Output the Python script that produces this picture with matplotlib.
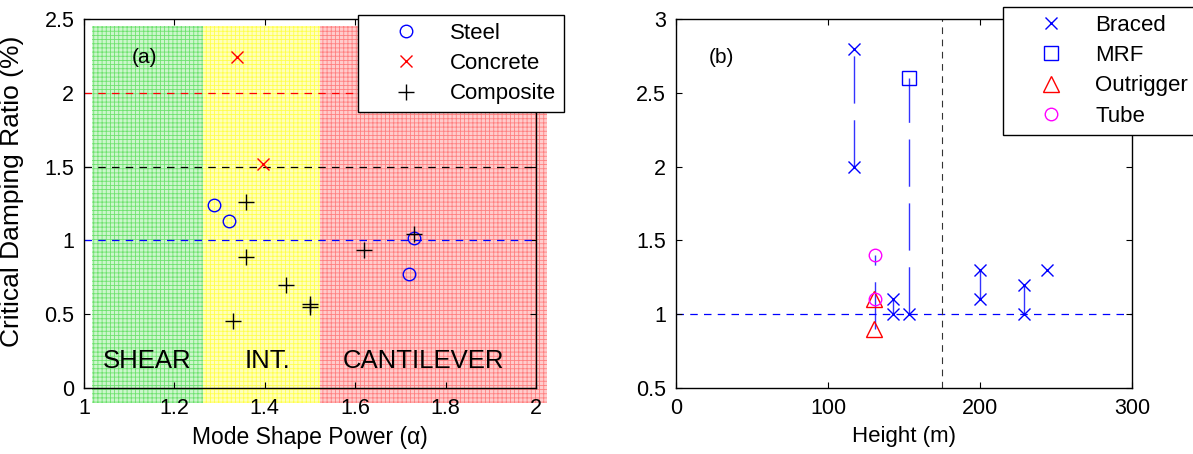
import matplotlib
matplotlib.use("Agg")
import matplotlib.pyplot as plt
from matplotlib.patches import Rectangle
from matplotlib.ticker import FormatStrFormatter

plt.rcParams['font.family'] = ['Liberation Sans', 'DejaVu Sans']
plt.rcParams['hatch.linewidth'] = 0.6

# ---- panel (a) data: mode shape power vs damping ratio ----
steel_alpha = [1.288, 1.32, 1.729, 1.719]
steel_zeta = [1.24, 1.13, 1.015, 0.77]
concrete_alpha = [1.338, 1.397]
concrete_zeta = [2.24, 1.515]
composite_alpha = [1.359, 1.359, 1.448, 1.50, 1.50, 1.33, 1.619, 1.729]
composite_zeta = [1.257, 0.885, 0.696, 0.568, 0.55, 0.455, 0.937, 1.045]

# region bounds (alpha) and colours
region_edges = [1.018, 1.263, 1.522, 2.024]
region_names = ['SHEAR', 'INT.', 'CANTILEVER']
region_face = ['#ccf6cc', '#ffffbc', '#ffcccc']
region_hatch = ['#6ee26e', '#ffff4c', '#ff8080']
ref_levels = [2.0, 1.5, 1.0]
ref_colors = ['red', 'black', 'blue']

# ---- panel (b) data: height vs damping ratio ----
braced_h = [117, 117, 153, 143, 143, 200, 200, 229, 229, 244]
braced_zeta = [2.8, 2.0, 1.0, 1.1, 1.0, 1.3, 1.1, 1.2, 1.0, 1.3]
mrf_h = [153]
mrf_zeta = [2.6]
outrigger_h = [130.5, 130.5]
outrigger_zeta = [1.1, 0.9]
tube_h = [131, 131]
tube_zeta = [1.4, 1.1]
# vertical range bars (height, low, high)
bar_h = [117, 153, 131, 143, 200, 229]
bar_lo = [2.0, 1.0, 0.9, 1.0, 1.1, 1.0]
bar_hi = [2.8, 2.6, 1.4, 1.1, 1.3, 1.2]
split_height = 175

fig = plt.figure(figsize=(11.93, 4.54), dpi=100)
ax1 = fig.add_axes([0.0704, 0.1454, 0.3789, 0.8126])
ax2 = fig.add_axes([0.5666, 0.1454, 0.3823, 0.8126])

ms = 9
for ax in (ax1, ax2):
    ax.tick_params(direction='in', top=True, right=True, labelsize=15.5,
                   length=4, width=0.8, pad=7)
    for s in ax.spines.values():
        s.set_linewidth(1.0)
        s.set_zorder(5)
    ax.yaxis.set_major_formatter(FormatStrFormatter('%g'))
    ax.xaxis.set_major_formatter(FormatStrFormatter('%g'))

legend_kw = dict(loc='upper left', bbox_transform=fig.transFigure, fontsize=16,
                 frameon=True, fancybox=False, edgecolor='black', framealpha=1,
                 handlelength=3.6, handletextpad=0.2, labelspacing=0.42,
                 borderpad=0.35, borderaxespad=0)

# ---- panel (a) ----
for i in range(3):
    x0, x1 = region_edges[i], region_edges[i + 1]
    ax1.add_patch(Rectangle((x0, -0.1), x1 - x0, 2.55, facecolor=region_face[i],
                            edgecolor=region_hatch[i], hatch='++++', linewidth=0,
                            clip_on=False, zorder=0.5))
for lev, c in zip(ref_levels, ref_colors):
    ax1.plot([1, 2], [lev, lev], '--', color=c, linewidth=0.9, dashes=(6, 5), zorder=2)

ax1.plot(steel_alpha, steel_zeta, 'o', mfc='none', mec='blue', ms=ms, mew=1.0,
         label='Steel', zorder=3)
ax1.plot(concrete_alpha, concrete_zeta, 'x', color='red', ms=ms, mew=1.0,
         label='Concrete', zorder=3)
ax1.plot(composite_alpha, composite_zeta, '+', color='black', ms=ms + 2, mew=1.0,
         label='Composite', zorder=3)

region_label_x = [1.14, 1.406, 1.75]
for xc, name in zip(region_label_x, region_names):
    ax1.text(xc, 0.18, name, ha='center', va='center', fontsize=18.5, zorder=4)
ax1.text(1.133, 2.24, '(a)', ha='center', va='center', fontsize=15, zorder=4)

ax1.set_xlim(1, 2)
ax1.set_ylim(0, 2.5)
ax1.set_xticks([1, 1.2, 1.4, 1.6, 1.8, 2])
ax1.set_yticks([0, 0.5, 1, 1.5, 2, 2.5])
ax1.set_xlabel('Mode Shape Power (\u03b1)', fontsize=16.5, labelpad=5)
ax1.set_ylabel('Critical Damping Ratio (%)', fontsize=19)
ax1.yaxis.set_label_coords(-0.133, 0.534)
leg = ax1.legend(bbox_to_anchor=(0.300, 0.967), **legend_kw)
leg.get_frame().set_linewidth(1.0)

# ---- panel (b) ----
ax2.axhline(1.0, color='blue', linestyle='--', dashes=(6, 5), linewidth=0.9, zorder=1)
ax2.axvline(split_height, color='#333333', linestyle='--', dashes=(6, 5),
            linewidth=0.8, zorder=1)
for h, lo, hi in zip(bar_h, bar_lo, bar_hi):
    ax2.plot([h, h], [lo, hi], color='blue', linewidth=1.0, dashes=(34, 12),
             alpha=0.8, zorder=2)

ax2.plot(braced_h, braced_zeta, 'x', color='blue', ms=ms, mew=1.0,
         label='Braced', zorder=3)
ax2.plot(mrf_h, mrf_zeta, 's', mfc='none', mec='blue', ms=ms + 1, mew=1.0,
         label='MRF', zorder=3)
ax2.plot(outrigger_h, outrigger_zeta, '^', mfc='none', mec='red', ms=ms + 2, mew=1.0,
         label='Outrigger', zorder=3)
ax2.plot(tube_h, tube_zeta, 'o', mfc='none', mec='magenta', ms=ms, mew=1.0,
         label='Tube', zorder=3)
ax2.text(30, 2.74, '(b)', ha='center', va='center', fontsize=15)

ax2.set_xlim(0, 300)
ax2.set_ylim(0.5, 3)
ax2.set_xticks([0, 100, 200, 300])
ax2.set_yticks([0.5, 1, 1.5, 2, 2.5, 3])
ax2.set_xlabel('Height (m)', fontsize=16, labelpad=5)
leg = ax2.legend(bbox_to_anchor=(0.8407, 0.9846), **legend_kw)
leg.get_frame().set_linewidth(1.0)

fig.savefig('out.png', dpi=100)
